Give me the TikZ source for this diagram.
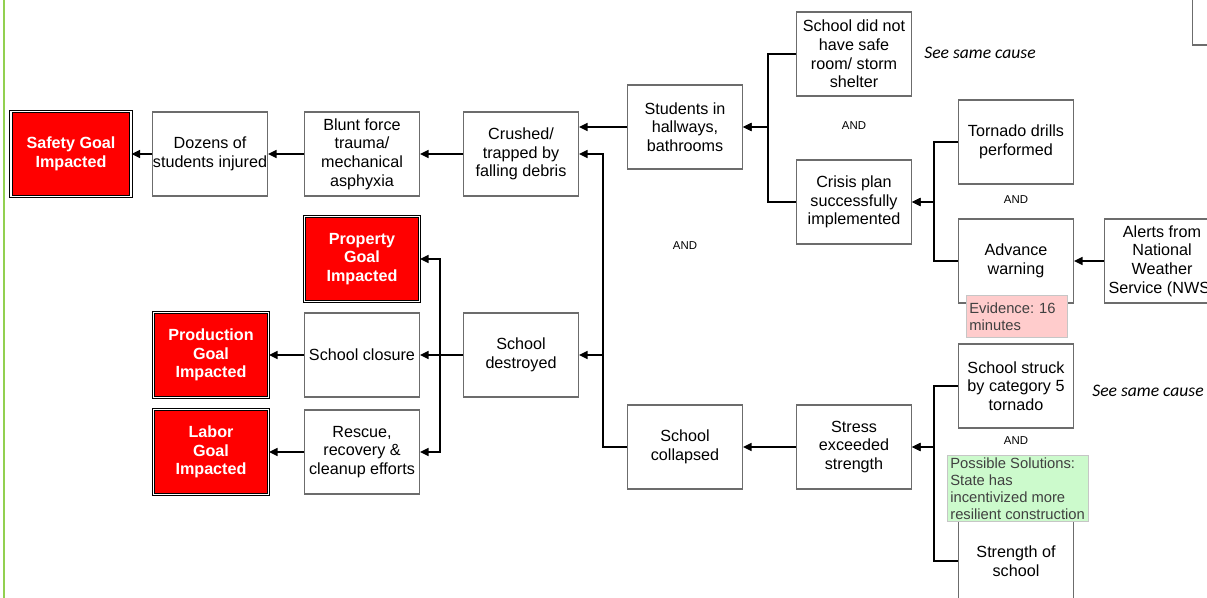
\documentclass[tikz,border=0pt]{standalone}
\usepackage{fontspec}
\setmainfont{Liberation Sans}
\newfontfamily\remarkfont{Carlito}
\usetikzlibrary{arrows.meta}
\definecolor{goalred}{RGB}{255,0,0}
\definecolor{notepink}{RGB}{255,204,204}
\definecolor{notegreen}{RGB}{204,250,204}
\definecolor{edgegreen}{RGB}{146,208,80}

\begin{document}
\begin{tikzpicture}
    [x=0.02cm,y=-0.02cm,>={Triangle[length=1.7mm,width=1.6mm]},
     every node/.style={font=\fontsize{9.2}{10.6}\selectfont,align=center},
     cause/.style={rectangle,draw=gray!85!black,fill=white,line width=0.6pt,
       minimum width=2.3cm,minimum height=1.68cm,inner sep=0pt},
     goal/.style={rectangle,draw=black,double=white,double distance=0.7pt,
       line width=0.6pt,fill=goalred,text=white,font=\fontsize{9.2}{10.6}\selectfont\bfseries,
       minimum width=2.3cm,minimum height=1.7cm,inner sep=0pt},
     link/.style={->,line width=0.8pt},
     gate/.style={font=\fontsize{6.5}{8}\selectfont},
     seealso/.style={font=\remarkfont\itshape\fontsize{10}{12}\selectfont},
     remark/.style={rectangle,draw=gray!45,anchor=north west,align=left,text=black!75,
       font=\fontsize{8.4}{9.6}\selectfont\frenchspacing,inner xsep=0.06cm,inner ysep=0.05cm}]
    \useasboundingbox (0,0) rectangle (1207,598);
    \clip (0,0) rectangle (1207,598);
    \draw[edgegreen,line width=1.2pt] (4,0) -- (4,598);

    % goals
    \node[goal,minimum width=2.4cm] (nsafety) at (71,154) {Safety Goal\\Impacted};
    \node[goal] (nproperty) at (362,259) {Property\\Goal\\Impacted};
    \node[goal] (nproduction) at (211,355) {Production\\Goal\\Impacted};
    \node[goal] (nlabor) at (211,452) {Labor\\Goal\\Impacted};

    % causes
    \node[cause] (ndozens) at (210,154) {Dozens of\\students injured};
    \node[cause] (nblunt) at (362,154) {Blunt force\\trauma/\\mechanical\\asphyxia};
    \node[cause] (ncrushed) at (521,154) {Crushed/\\trapped by\\falling debris};
    \node[cause] (nstudents) at (685,127) {Students in\\hallways,\\bathrooms};
    \node[cause] (nnoshelter) at (854,54) {School did not\\have safe\\room/ storm\\shelter};
    \node[cause] (ncrisis) at (854,202) {Crisis plan\\successfully\\implemented};
    \node[cause] (ntornado) at (1016,142) {Tornado drills\\performed};
    \node[cause] (nadvance) at (1016,261) {Advance\\warning};
    \node[cause] (nalerts) at (1162,261) {Alerts from\\National\\Weather\\Service (NWS)};
    \node[cause] (nclosure) at (362,355) {School closure};
    \node[cause] (ndestroyed) at (521,355) {School\\destroyed};
    \node[cause] (nrescue) at (362,452) {Rescue,\\recovery \&\\cleanup efforts};
    \node[cause] (ncollapsed) at (685,447) {School\\collapsed};
    \node[cause] (nstress) at (854,447) {Stress\\exceeded\\strength};
    \node[cause] (nstruck) at (1016,386) {School struck\\by category 5\\tornado};
    \node[cause] (nstrength) at (1016,561) {Strength of\\school};
    \node[cause] (nnext) at (1250,3) {};

    \node[gate] (gstudents) at (854,126) {AND};
    \node[gate] (gcrisis) at (1016,200) {AND};
    \node[gate] (gcrushed) at (685,246) {AND};
    \node[gate] (gstress) at (1016,441) {AND};
    \node[seealso] (snoshelter) at (980,53) {See same cause};
    \node[seealso] (sstruck) at (1148,391) {See same cause};

    \node[remark,fill=notepink,text width=1.9cm,minimum height=0.84cm] (revidence) at (966,295)
      {Evidence: 16\\minutes};
    \node[remark,fill=notegreen,minimum width=2.78cm] (rsolution) at (947,455)
      {Possible Solutions:\\State has\\incentivized more\\resilient construction};

    \draw[link] (ndozens) -- (nsafety);
    \draw[link] (nblunt) -- (ndozens);
    \draw[link] (ncrushed) -- (nblunt);
    \draw[link] (nstudents.west) -- (nstudents.west -| ncrushed.east);
    \draw[link] (ncollapsed.west) -- ++(-24,0) |- (ncrushed.east);
    \draw[link] (ncollapsed.west) -- ++(-24,0) |- (ndestroyed.east);
    \draw[link] (ndestroyed) -- (nclosure);
    \draw[link] (ndestroyed.west) -- ++(-23,0) |- (nproperty.east);
    \draw[link] (ndestroyed.west) -- ++(-23,0) |- (nrescue.east);
    \draw[link] (nclosure) -- (nproduction);
    \draw[link] (nrescue) -- (nlabor);
    \draw[link] (nnoshelter.west) -- ++(-28,0) |- (nstudents.east);
    \draw[link] (ncrisis.west) -- ++(-28,0) |- (nstudents.east);
    \draw[link] (ntornado.west) -- ++(-24,0) |- (ncrisis.east);
    \draw[link] (nadvance.west) -- ++(-24,0) |- (ncrisis.east);
    \draw[link] (nalerts) -- (nadvance);
    \draw[link] (nstress) -- (ncollapsed);
    \draw[link] (nstruck.west) -- ++(-24,0) |- (nstress.east);
    \draw[link] (nstrength.west) -- ++(-24,0) |- (nstress.east);
\end{tikzpicture}
\end{document}
